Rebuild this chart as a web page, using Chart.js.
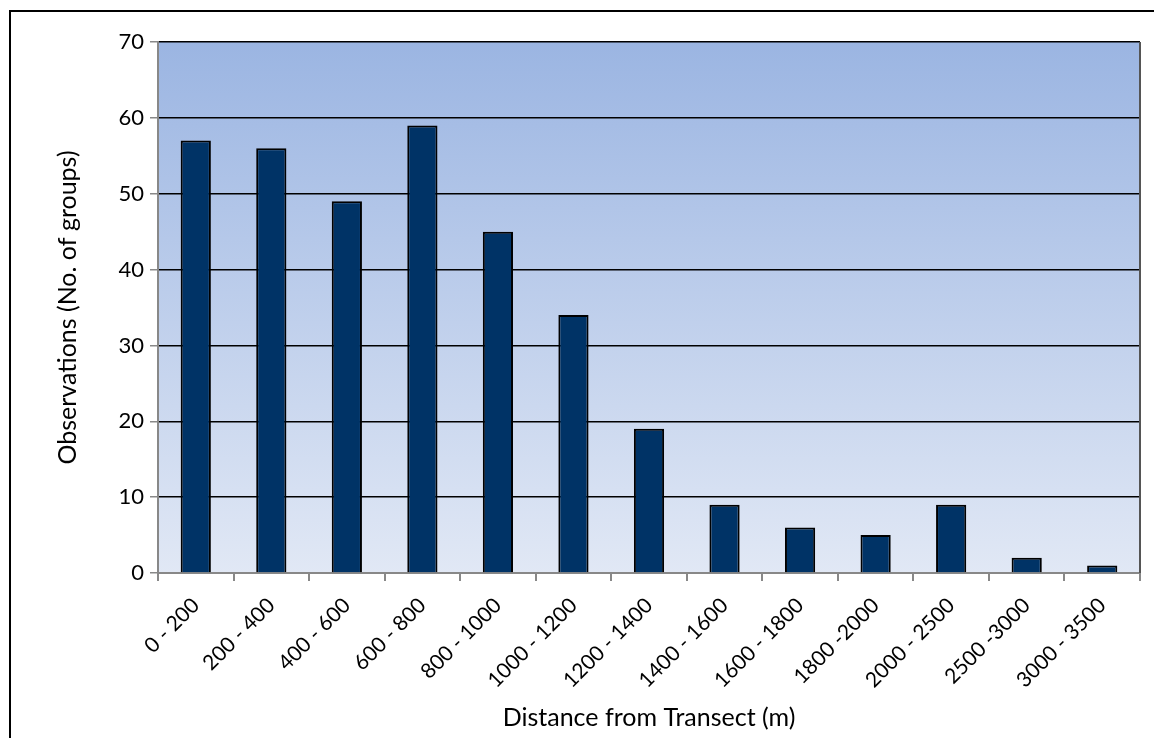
<!DOCTYPE html>
<html>
<head>
<meta charset="utf-8">
<script src="https://cdn.jsdelivr.net/npm/chart.js@4.4.0/dist/chart.umd.min.js"></script>
<style>
  html, body { margin: 0; padding: 0; background: #fff; }
  #wrap { width: 1154px; height: 738px; position: relative; }
</style>
</head>
<body>
<div id="wrap"><canvas id="distChart"></canvas></div>
<script>
const categories = ['0 - 200', '200 - 400', '400 - 600', '600 - 800', '800 - 1000', '1000 - 1200',
  '1200 - 1400', '1400 - 1600', '1600 - 1800', '1800 -2000', '2000 - 2500', '2500 -3000', '3000 - 3500'];
const observations = [57, 56, 49, 59, 45, 34, 19, 9, 6, 5, 9, 2, 1];
const yTicks = [0, 10, 20, 30, 40, 50, 60, 70];

const fontFam = 'Lato, "Open Sans", sans-serif';

// gradient plot background + frame lines
const plotBg = {
  id: 'plotBg',
  beforeDraw(chart) {
    const { ctx, chartArea: a } = chart;
    const g = ctx.createLinearGradient(0, a.top, 0, a.bottom);
    g.addColorStop(0, '#9bb5e2');
    g.addColorStop(1, '#e1e8f5');
    ctx.save();
    ctx.fillStyle = g;
    ctx.fillRect(a.left, a.top, a.right - a.left, a.bottom - a.top);
    ctx.restore();
  },
  afterDraw(chart) {
    const { ctx, chartArea: a } = chart;
    ctx.save();
    ctx.strokeStyle = '#555';
    ctx.lineWidth = 2;
    ctx.beginPath();
    ctx.moveTo(a.right, a.top);
    ctx.lineTo(a.right, a.bottom);
    ctx.stroke();
    // outer chart frame
    ctx.strokeStyle = '#000';
    ctx.lineWidth = 2;
    ctx.beginPath();
    ctx.moveTo(10, 740);
    ctx.lineTo(10, 11);
    ctx.lineTo(1160, 11);
    ctx.stroke();
    ctx.restore();
  }
};

new Chart(document.getElementById('distChart').getContext('2d'), {
  type: 'bar',
  data: {
    labels: categories,
    datasets: [{
      data: observations,
      backgroundColor: '#003366',
      borderColor: '#000',
      borderWidth: 2,
      barPercentage: 0.4,
      categoryPercentage: 1
    }]
  },
  options: {
    responsive: true,
    maintainAspectRatio: false,
    animation: false,
    layout: { padding: { left: 10, top: 42, right: 14, bottom: 0 } },
    plugins: { legend: { display: false }, tooltip: { enabled: false } },
    scales: {
      x: {
        offset: true,
        afterFit(axis) { axis.height = 165; },
        grid: { display: true, drawOnChartArea: false, offset: true, tickLength: 8, tickColor: '#888', lineWidth: 2 },
        border: { color: '#888', width: 2 },
        ticks: { color: '#000', font: { family: fontFam, size: 21 }, maxRotation: 45, minRotation: 45, padding: 12 },
        title: { display: true, text: 'Distance from Transect (m)', color: '#000', font: { family: fontFam, size: 25 }, padding: { top: 0, bottom: 5 } }
      },
      y: {
        min: 0, max: 70,
        afterFit(axis) { axis.width = 148; },
        afterBuildTicks(axis) { axis.ticks = yTicks.map(v => ({ value: v })); },
        grid: { color: '#000', lineWidth: 1.5, tickLength: 8, tickColor: '#888' },
        border: { color: '#888', width: 2 },
        ticks: { color: '#000', font: { family: fontFam, size: 22 }, padding: 6 },
        title: { display: true, text: 'Observations (No. of groups)', color: '#000', font: { family: fontFam, size: 25 }, padding: { top: 43, bottom: 0 } }
      }
    }
  },
  plugins: [plotBg]
});
</script>
</body>
</html>
